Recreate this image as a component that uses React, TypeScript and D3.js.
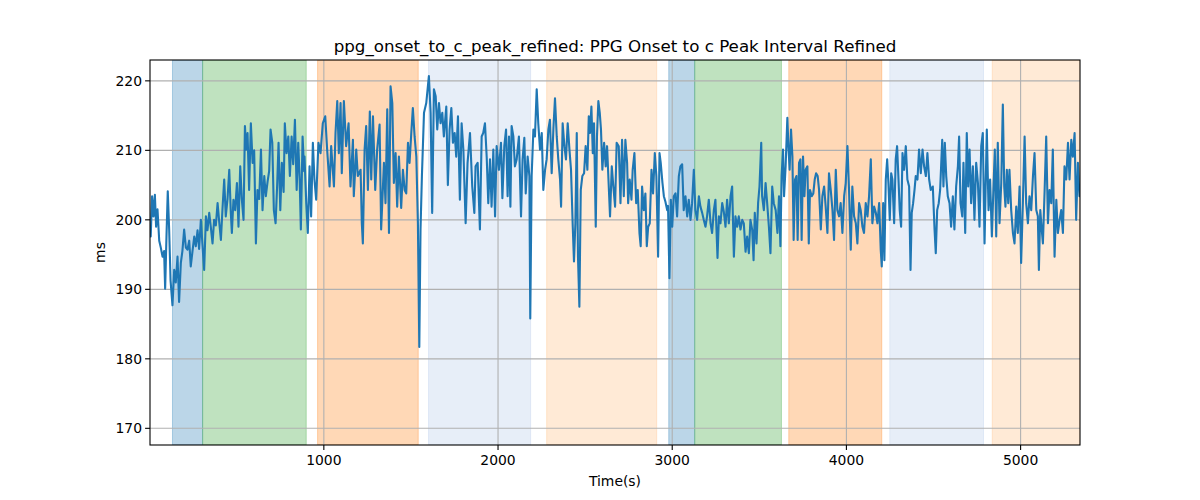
import React from "react";
import * as d3 from "d3";

const titleText = "ppg_onset_to_c_peak_refined: PPG Onset to c Peak Interval Refined";
const xLabel = "Time(s)";
const yLabel = "ms";
const xTicks = [1000, 2000, 3000, 4000, 5000];
const yTicks = [170, 180, 190, 200, 210, 220];
const xDomain = [2, 5341];
const yDomain = [167.6, 223.0];

const spanStart = [131, 304, 964, 1601, 2279, 2980, 3129, 3669, 4249, 4837];
const spanEnd = [304, 899, 1542, 2187, 2911, 3129, 3627, 4203, 4787, 5341];
const spanColor = ["#1f77b4", "#2ca02c", "#ff7f0e", "#aec7e8", "#ffbb78", "#1f77b4", "#2ca02c", "#ff7f0e", "#aec7e8", "#ffbb78"];

// [time (s), interval (ms)]
const ppgSeries: [number, number][] = [
  [2, 199], [6, 197.6], [14, 203.4], [22, 200.5], [30, 203.6], [37, 199], [45, 201.5], [55, 197], [64, 196], [74, 194.7],
  [83, 195.5], [89, 190.1], [97, 198], [104, 204.1], [112, 198.6], [120, 191.3], [131, 187.7], [141, 192.8], [150, 191], [160, 194.7],
  [169, 188.2], [179, 193.8], [188, 195.5], [198, 198.6], [208, 196], [217, 195.7], [227, 197], [236, 193.3], [246, 195.5], [256, 197.6],
  [265, 196.2], [275, 198.5], [284, 195.8], [294, 200], [303, 196.5], [313, 192.8], [323, 200.5], [332, 198.5], [342, 201], [351, 199],
  [361, 196.6], [370, 200], [380, 199.2], [390, 202.4], [399, 199.8], [409, 197.1], [418, 201.5], [428, 205.8], [437, 200.5], [447, 203],
  [457, 207.2], [466, 201], [472, 198.1], [481, 202.9], [491, 201.4], [501, 205.3], [510, 199], [520, 207.7], [529, 203], [539, 200],
  [547, 213.5], [554, 210.1], [562, 212.5], [571, 204.3], [581, 213.9], [591, 208.2], [600, 210], [610, 196.6], [619, 204.3], [629, 203],
  [639, 210.1], [648, 201.4], [658, 206.3], [667, 203.4], [677, 205.5], [686, 207], [694, 213], [704, 211.1], [713, 201.4], [723, 199.5],
  [732, 205], [740, 211.1], [750, 201.4], [759, 208.2], [769, 204], [776, 213.9], [786, 209.6], [796, 212], [805, 206.3], [815, 212],
  [824, 208], [834, 214.4], [844, 204.3], [853, 211.1], [861, 206], [868, 198.6], [878, 212], [887, 207],
  [889, 209.1], [899, 202.4], [908, 198.1], [918, 207.7], [927, 200.5], [937, 211.1], [946, 205.8], [956, 202.9], [969, 211.1], [981, 209.6],
  [994, 213.9], [1008, 214.9], [1019, 210.1], [1033, 204.8], [1042, 210.6], [1058, 204.8], [1067, 212.5], [1077, 217.1], [1086, 209.6], [1096, 216.8],
  [1103, 206.7], [1115, 217.1], [1128, 210.6], [1142, 213.9], [1153, 204.8], [1167, 211.5], [1172, 203.4], [1186, 210.1], [1195, 206.3], [1211, 207.2],
  [1218, 199.5], [1224, 196.6], [1234, 210.1], [1243, 213.5], [1253, 204.3], [1264, 215.6], [1272, 205.8], [1282, 214.9], [1295, 204.3], [1306, 210.1],
  [1320, 213.7], [1329, 198.6], [1345, 208.2], [1354, 202.4], [1364, 215.9], [1374, 198.1], [1383, 219.2], [1393, 216.8], [1402, 205.3], [1412, 209.6],
  [1421, 201.9], [1431, 209.1], [1444, 201.7], [1454, 207.2], [1464, 204.3], [1473, 203.8], [1483, 211.1], [1492, 208.2], [1502, 212.5], [1511, 216.1],
  [1521, 212], [1531, 209.1], [1540, 199.5], [1548, 181.7], [1555, 198.6], [1563, 206.3], [1575, 215.4], [1588, 216.8], [1603, 220.7], [1613, 215.4],
  [1622, 201], [1632, 218.8], [1642, 217.8], [1651, 213], [1661, 216.8], [1670, 213.9], [1680, 215.4], [1689, 212], [1703, 216.3], [1712, 205],
  [1722, 213], [1732, 216.1], [1741, 211.1], [1751, 212.5], [1760, 209.1], [1770, 214.9], [1781, 202.9],
  [1791, 213.9], [1801, 210.1], [1814, 199.5], [1825, 208.2], [1839, 212.5], [1852, 204.8], [1864, 201], [1871, 207.7], [1883, 208.2], [1896, 198.6],
  [1906, 212], [1915, 212.5], [1925, 213.9], [1935, 209], [1944, 202.4], [1954, 208.7], [1963, 201.9], [1973, 210.1], [1983, 200.5], [1992, 210.6],
  [2005, 207.2], [2017, 211.1], [2025, 203.1], [2036, 210.6], [2046, 213], [2055, 203.4], [2063, 212], [2071, 201.9], [2078, 213.5], [2088, 212],
  [2097, 207.7], [2107, 208.7], [2120, 212], [2132, 200.5], [2141, 208.7], [2151, 211.8], [2159, 203.8], [2170, 209.1], [2180, 206.3], [2185, 185.8],
  [2193, 206.3], [2203, 213], [2212, 212], [2222, 218.8], [2231, 213.9], [2241, 210.1], [2251, 212.5], [2260, 204.3], [2270, 207.2], [2279, 208.7],
  [2289, 213], [2298, 214.4], [2308, 206.7], [2318, 213.2], [2327, 217.5], [2337, 212], [2346, 208.7], [2356, 205.8], [2362, 201.9], [2371, 213.9],
  [2381, 210.6], [2390, 208.7], [2400, 213.9], [2410, 210.1], [2419, 207.2], [2429, 199], [2436, 194], [2444, 199.5], [2452, 212.5], [2459, 194.7],
  [2467, 187.5], [2475, 204.3], [2484, 206.3], [2494, 206.7], [2503, 210.6], [2513, 207.2], [2521, 214.9], [2528, 212.5], [2536, 216.3], [2544, 209.6],
  [2551, 213.9], [2561, 199], [2568, 212], [2576, 217.1], [2584, 215.4], [2591, 213], [2599, 207.2], [2609, 211.1], [2618, 207.7], [2626, 210.6],
  [2634, 205.8], [2643, 200.5], [2653, 207.7], [2662, 204.8], [2672, 201.9], [2681, 211.1],
  [2693, 210.6], [2703, 202.4], [2712, 211.5], [2722, 203.4], [2731, 211.5], [2741, 208.2], [2747, 202.4], [2756, 205.8], [2766, 202.9], [2773, 207.2],
  [2783, 209.6], [2793, 202.4], [2802, 204.3], [2812, 198.1], [2819, 196.2], [2827, 204.8], [2837, 201.4], [2846, 203.8], [2854, 196.2], [2862, 199],
  [2871, 199.5], [2881, 207.2], [2890, 203.8], [2900, 209.6], [2909, 206.3], [2919, 194.7], [2927, 209.6], [2934, 208.2], [2944, 205.3], [2952, 203.4],
  [2961, 202.6], [2971, 201.4], [2976, 202], [2984, 191.6], [2992, 202.9], [3000, 199], [3009, 203.4], [3019, 203.8], [3028, 200.5], [3038, 206.3],
  [3047, 207.7], [3057, 208], [3066, 201.4], [3076, 203.4], [3086, 200.5], [3095, 202.9], [3105, 200], [3114, 202.4], [3124, 207.2], [3133, 201.4],
  [3143, 200], [3153, 203.4], [3162, 201.9], [3172, 201], [3181, 200], [3191, 199], [3200, 200.5], [3210, 202.9], [3220, 199.5], [3229, 198.1],
  [3239, 201.4], [3248, 202.9], [3260, 194.5], [3268, 200.5], [3277, 199.5], [3287, 202.4], [3296, 201.2], [3306, 199], [3315, 202.9], [3325, 199.5],
  [3335, 203.4], [3344, 204.8], [3354, 194.7], [3363, 200.5], [3373, 199], [3382, 200.5], [3392, 198.6], [3402, 200], [3411, 199.5], [3421, 195.4],
  [3430, 197.6], [3440, 195.2], [3449, 200], [3459, 198.6], [3467, 194.2], [3474, 201], [3484, 196.6], [3493, 202.4], [3501, 204.8], [3511, 211.1],
  [3516, 203.4], [3526, 201.4], [3536, 205.3], [3545, 202.4], [3555, 199], [3564, 195.2], [3574, 204.8], [3583, 202.4],
  [3594, 201.4], [3604, 198.1], [3613, 203.4], [3621, 196.2], [3628, 206.3], [3636, 210.1], [3642, 203.4], [3651, 207.7], [3661, 214.7], [3667, 210.6],
  [3674, 207.2], [3682, 213], [3690, 209.1], [3697, 197.1], [3705, 205.8], [3713, 206.3], [3720, 197.1], [3728, 208.2], [3736, 208.7], [3743, 197.1],
  [3751, 209.1], [3759, 203.4], [3766, 207.2], [3776, 207.7], [3784, 196.6], [3791, 204.3], [3801, 203.4], [3810, 203.8], [3818, 205.8], [3826, 206.7],
  [3835, 206.3], [3843, 204.3], [3853, 198.6], [3862, 203.4], [3872, 204.8], [3881, 201.9], [3891, 198.1], [3900, 206.7], [3910, 204.3], [3920, 201.4],
  [3929, 197.1], [3939, 207.2], [3948, 201.4], [3958, 200.5], [3967, 202.4], [3977, 198.1], [3987, 203.4], [3996, 205.3], [4006, 210.6], [4015, 204.3],
  [4025, 195.7], [4034, 204.8], [4044, 200.5], [4054, 199.5], [4063, 196.6], [4073, 202.4], [4082, 201.4], [4092, 199], [4101, 198.1], [4111, 202.4],
  [4121, 200.5], [4130, 203.4], [4140, 208.7], [4149, 199.5], [4159, 201.9], [4169, 201], [4178, 199.5], [4188, 202.4], [4197, 195.7], [4203, 193.3],
  [4211, 202.4], [4218, 194.2], [4226, 205.8], [4234, 208.7], [4241, 205.3], [4249, 200], [4257, 206.7], [4264, 205.8], [4274, 199.5], [4283, 208.7],
  [4291, 210.6], [4299, 205.8], [4306, 201.4], [4314, 199], [4322, 209.6], [4331, 207.2], [4341, 210.6], [4350, 205.8], [4360, 204.8], [4368, 192.8],
  [4375, 201], [4383, 202.4], [4391, 204.3], [4398, 206.3], [4408, 205.8], [4417, 210.1], [4427, 206.7], [4437, 210.1], [4446, 207.7], [4456, 206.3],
  [4465, 209.6], [4475, 205.8], [4484, 204.3],
  [4496, 204.8], [4506, 198.6], [4513, 195.2], [4521, 201.4], [4530, 202.4], [4538, 204.3], [4550, 211.5], [4557, 204.8], [4565, 211.1], [4573, 206.3],
  [4582, 203.4], [4592, 202.4], [4601, 199], [4611, 203.4], [4620, 198.6], [4630, 204.8], [4640, 207.7], [4647, 212], [4655, 202.4], [4665, 200.5],
  [4672, 208.2], [4682, 198.1], [4691, 212.5], [4699, 204.8], [4707, 210.1], [4716, 202.4], [4726, 207.7], [4735, 200], [4745, 208.2], [4755, 205.3],
  [4764, 199], [4774, 210.6], [4783, 212.5], [4793, 196.6], [4799, 204.3], [4806, 213], [4816, 201.4], [4825, 205.8], [4835, 197.6], [4845, 205.3],
  [4852, 210.1], [4860, 197.6], [4869, 211.1], [4879, 199.5], [4889, 205.3], [4898, 216.6], [4906, 204.8], [4913, 201.9], [4921, 207.2], [4929, 202.4],
  [4936, 207.2], [4946, 201.4], [4956, 198.1], [4965, 196.6], [4975, 201.9], [4984, 198.1], [4994, 204.8], [5003, 193.8], [5013, 202.4], [5023, 212],
  [5032, 202.4], [5042, 199.5], [5051, 203.4], [5061, 201.4], [5071, 206.3], [5080, 209.6], [5090, 201.4], [5099, 200.5], [5105, 192.8], [5113, 201.4],
  [5120, 199], [5128, 196.6], [5138, 204.3], [5147, 212], [5157, 199.5], [5166, 204.3], [5176, 202.4], [5185, 210.1], [5195, 194.7], [5205, 202.9],
  [5214, 198.1], [5224, 200], [5233, 201.4], [5243, 198.1], [5252, 207.7], [5262, 205.8], [5272, 211.1], [5281, 205.8], [5291, 211.5], [5300, 209.1],
  [5310, 212.5], [5319, 200], [5329, 208.2], [5338, 203.4], [5341, 205],
];

const W = 1200;
const H = 500;
const M = { left: 150, right: 1080, top: 60, bottom: 445 };
const FONT = "DejaVu Sans, sans-serif";

export default function App() {
  const x = d3.scaleLinear().domain(xDomain).range([M.left, M.right]);
  const y = d3.scaleLinear().domain(yDomain).range([M.bottom, M.top]);
  const line = d3
    .line<[number, number]>()
    .x((d) => x(d[0]))
    .y((d) => y(d[1]));

  return (
    <svg
      width={W}
      height={H}
      style={{ position: "absolute", left: 0, top: 0, background: "#fff" }}
      fontFamily={FONT}
    >
      <rect x={0} y={0} width={W} height={H} fill="#fff" />
      <defs>
        <clipPath id="plotclip">
          <rect x={M.left} y={M.top} width={M.right - M.left} height={M.bottom - M.top} />
        </clipPath>
      </defs>
      <g clipPath="url(#plotclip)">
        {spanStart.map((s, i) => (
          <rect
            key={"span" + i}
            x={x(s)}
            y={M.top}
            width={x(spanEnd[i]) - x(s)}
            height={M.bottom - M.top}
            fill={spanColor[i]}
            fillOpacity={0.3}
            stroke={spanColor[i]}
            strokeOpacity={0.3}
            strokeWidth={1}
          />
        ))}
      </g>
      {/* grid */}
      <g stroke="#b0b0b0" strokeWidth={1.1}>
        {xTicks.map((t) => (
          <line key={"gx" + t} x1={x(t)} x2={x(t)} y1={M.top} y2={M.bottom} />
        ))}
        {yTicks.map((t) => (
          <line key={"gy" + t} x1={M.left} x2={M.right} y1={y(t)} y2={y(t)} />
        ))}
      </g>
      <g clipPath="url(#plotclip)">
        <path
          d={line(ppgSeries) || ""}
          fill="none"
          stroke="#1f77b4"
          strokeWidth={2.1}
          strokeLinejoin="round"
          strokeLinecap="square"
        />
      </g>
      {/* spines */}
      <rect
        x={M.left}
        y={M.top}
        width={M.right - M.left}
        height={M.bottom - M.top}
        fill="none"
        stroke="#000"
        strokeWidth={1.1}
      />
      {/* x ticks */}
      {xTicks.map((t) => (
        <g key={"xt" + t}>
          <line x1={x(t)} x2={x(t)} y1={M.bottom} y2={M.bottom + 4.9} stroke="#000" strokeWidth={1.1} />
          <text x={x(t)} y={M.bottom + 19.5} textAnchor="middle" fontSize={13.9} fill="#000">
            {t}
          </text>
        </g>
      ))}
      {/* y ticks */}
      {yTicks.map((t) => (
        <g key={"yt" + t}>
          <line x1={M.left - 4.9} x2={M.left} y1={y(t)} y2={y(t)} stroke="#000" strokeWidth={1.1} />
          <text x={M.left - 8} y={y(t) + 5} textAnchor="end" fontSize={13.9} fill="#000">
            {t}
          </text>
        </g>
      ))}
      <text x={(M.left + M.right) / 2} y={486} textAnchor="middle" fontSize={13.9} fill="#000">
        {xLabel}
      </text>
      <text
        transform={`translate(105, ${(M.top + M.bottom) / 2}) rotate(-90)`}
        textAnchor="middle"
        fontSize={13.9}
        fill="#000"
      >
        {yLabel}
      </text>
      <text x={(M.left + M.right) / 2} y={52} textAnchor="middle" fontSize={16.7} fill="#000">
        {titleText}
      </text>
    </svg>
  );
}
